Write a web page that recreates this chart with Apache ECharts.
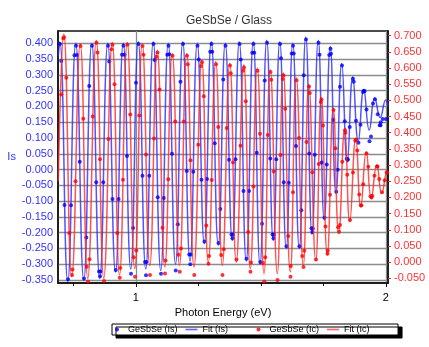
<!DOCTYPE html>
<html><head><meta charset="utf-8">
<script src="https://cdn.jsdelivr.net/npm/echarts@6/dist/echarts.min.js"></script>
<style>html,body{margin:0;padding:0;background:#fff}#c{width:429px;height:347px}</style>
</head><body><div id="c"></div>
<script>
// Tick values
const isTicks = [-0.35,-0.3,-0.25,-0.2,-0.15,-0.1,-0.05,0,0.05,0.1,0.15,0.2,0.25,0.3,0.35,0.4];
const icTicks = [-0.05,0,0.05,0.1,0.15,0.2,0.25,0.3,0.35,0.4,0.45,0.5,0.55,0.6,0.65,0.7];
const xMajor = [1,2];
const xMinor = [0.75,1.25,1.5,1.75];

// Fit (Is): [photon energy eV, Is]
const isFit = [[0.690,0.36],[0.696,0.405],[0.728,-0.355],[0.760,0.400],[0.792,-0.350],[0.824,0.400],[0.856,-0.345],[0.888,0.400],[0.919,-0.325],[0.950,0.400],[0.980,-0.315],[1.010,0.405],[1.040,-0.315],[1.070,0.405],[1.100,-0.320],[1.130,0.400],[1.159,-0.300],[1.188,0.405],[1.217,-0.290],[1.246,0.400],[1.274,-0.235],[1.302,0.405],[1.330,-0.240],[1.358,0.400],[1.386,-0.225],[1.414,0.405],[1.442,-0.290],[1.470,0.405],[1.497,-0.300],[1.524,0.410],[1.550,-0.225],[1.576,0.405],[1.602,-0.250],[1.628,0.400],[1.654,-0.250],[1.680,0.420],[1.705,-0.205],[1.730,0.410],[1.754,-0.160],[1.778,0.390],[1.801,-0.075],[1.824,0.336],[1.846,0.025],[1.868,0.294],[1.890,0.090],[1.912,0.254],[1.934,0.125],[1.956,0.227],[1.978,0.165],[2.000,0.220],[2.009,0.200]];

// GeSbSe (Is) measured points
const isData = [
[0.697,0.398],[0.702,0.344],[0.715,-0.112],
[0.729,-0.348],[0.741,-0.113],[0.755,0.362],
[0.761,0.392],[0.765,0.363],[0.776,0.025],
[0.793,-0.345],[0.802,-0.215],[0.814,0.265],
[0.825,0.392],[0.842,-0.040],[0.853,-0.323],
[0.857,-0.338],[0.859,-0.323],[0.870,-0.040],
[0.889,0.392],[0.894,0.342],[0.907,-0.093],
[0.920,-0.318],[0.931,-0.093],[0.945,0.364],
[0.951,0.392],[0.955,0.364],[0.965,0.043],
[0.981,-0.330],[0.989,-0.185],[1.001,0.275],
[1.011,0.398],[1.027,-0.020],[1.037,-0.293],
[1.041,-0.335],[1.043,-0.293],[1.054,-0.020],
[1.071,0.398],[1.076,0.347],[1.088,-0.088],
[1.101,-0.330],[1.112,-0.090],[1.126,0.364],
[1.131,0.392],[1.134,0.365],[1.145,0.050],
[1.160,-0.320],[1.168,-0.173],[1.179,0.278],
[1.189,0.398],[1.204,-0.005],[1.214,-0.269],
[1.218,-0.300],[1.220,-0.269],[1.230,-0.007],
[1.247,0.392],[1.252,0.349],[1.263,-0.032],
[1.275,-0.228],[1.285,-0.030],[1.298,0.373],
[1.303,0.398],[1.306,0.373],[1.316,0.083],
[1.331,-0.233],[1.338,-0.125],[1.350,0.285],
[1.359,0.392],[1.373,0.031],[1.383,-0.206],
[1.387,-0.218],[1.389,-0.206],[1.399,0.033],
[1.415,0.398],[1.420,0.349],[1.431,-0.068],
[1.443,-0.283],[1.453,-0.068],[1.466,0.370],
[1.471,0.398],[1.474,0.370],[1.484,0.053],
[1.498,-0.293],[1.505,-0.172],[1.516,0.282],
[1.525,0.402],[1.538,0.035],[1.547,-0.206],
[1.551,-0.218],[1.553,-0.206],[1.562,0.033],
[1.577,0.398],[1.581,0.353],[1.592,-0.040],
[1.603,-0.243],[1.612,-0.042],[1.624,0.368],
[1.629,0.392],[1.632,0.368],[1.641,0.075],
[1.655,-0.243],[1.662,-0.129],[1.672,0.299],
[1.681,0.412],[1.694,0.051],[1.703,-0.186],
[1.706,-0.198],[1.708,-0.187],[1.716,0.047],
[1.731,0.402],[1.735,0.364],[1.744,0.022],
[1.755,-0.153],[1.764,0.016],[1.774,0.363],
[1.779,0.383],[1.781,0.367],[1.790,0.158],
[1.802,-0.070],[1.808,-0.001],[1.817,0.262],
[1.825,0.330],[1.836,0.153],[1.844,0.034],
[1.847,0.030],[1.848,0.033],[1.856,0.135],
[1.869,0.288],[1.872,0.278],[1.881,0.155],
[1.891,0.085],[1.899,0.142],[1.909,0.246],
[1.913,0.250],[1.915,0.248],[1.923,0.190],
[1.935,0.090],[1.941,0.105],[1.949,0.209],
[1.957,0.223],[1.968,0.175],[1.976,0.140],
[1.979,0.140],[1.980,0.150],[1.988,0.160],
[2.001,0.160]];

// Fit (Ic): [photon energy eV, Ic]
const icFit = [[0.690,0.25],[0.712,0.705],[0.744,-0.045],[0.778,0.675],[0.808,-0.050],[0.842,0.685],[0.872,-0.050],[0.906,0.680],[0.935,-0.040],[0.966,0.680],[0.996,-0.020],[1.026,0.675],[1.056,-0.010],[1.086,0.655],[1.116,-0.015],[1.146,0.645],[1.175,-0.010],[1.204,0.645],[1.233,-0.015],[1.264,0.625],[1.290,0.000],[1.320,0.620],[1.346,-0.010],[1.376,0.615],[1.402,0.000],[1.432,0.610],[1.458,-0.020],[1.486,0.600],[1.513,-0.035],[1.538,0.595],[1.566,-0.035],[1.590,0.585],[1.618,-0.030],[1.642,0.570],[1.670,-0.010],[1.692,0.550],[1.720,0.005],[1.742,0.510],[1.766,0.022],[1.790,0.476],[1.812,0.089],[1.836,0.414],[1.856,0.125],[1.880,0.383],[1.900,0.171],[1.922,0.341],[1.942,0.197],[1.964,0.300],[1.984,0.213],[2.006,0.280],[2.009,0.275]];

// GeSbSe (Ic) measured points
const icData = [
[0.702,0.518],[0.710,0.691],
[0.713,0.695],[0.722,0.570],[0.734,0.090],
[0.745,-0.040],[0.747,-0.023],[0.759,0.250],
[0.779,0.668],[0.790,0.443],[0.804,-0.014],
[0.809,-0.060],[0.815,0.009],[0.828,0.450],
[0.843,0.678],[0.847,0.648],[0.857,0.318],
[0.873,-0.058],[0.891,0.381],[0.903,0.658],
[0.907,0.672],[0.915,0.550],[0.926,0.090],
[0.936,-0.048],[0.938,-0.018],[0.949,0.255],
[0.967,0.672],[0.978,0.456],[0.992,0.015],
[0.997,-0.045],[1.002,0.036],[1.014,0.453],
[1.027,0.668],[1.031,0.641],[1.041,0.333],
[1.057,-0.040],[1.073,0.382],[1.083,0.635],
[1.087,0.648],[1.095,0.534],[1.107,0.106],
[1.117,-0.035],[1.119,0.005],[1.130,0.256],
[1.147,0.638],[1.158,0.435],[1.171,0.023],
[1.176,-0.030],[1.181,0.042],[1.192,0.435],
[1.205,0.638],[1.208,0.612],[1.219,0.315],
[1.234,-0.040],[1.250,0.363],[1.261,0.606],
[1.265,0.618],[1.272,0.513],[1.282,0.113],
[1.291,-0.005],[1.293,0.019],[1.304,0.254],
[1.321,0.612],[1.330,0.418],[1.342,0.022],
[1.347,-0.040],[1.352,0.040],[1.364,0.415],
[1.377,0.608],[1.380,0.584],[1.389,0.308],
[1.403,0.008],[1.419,0.360],[1.429,0.592],
[1.433,0.602],[1.440,0.497],[1.450,0.093],
[1.459,-0.030],[1.461,-0.001],[1.471,0.234],
[1.487,0.592],[1.497,0.397],[1.509,-0.003],
[1.514,-0.060],[1.518,0.015],[1.528,0.393],
[1.539,0.588],[1.542,0.564],[1.552,0.280],
[1.567,-0.055],[1.579,0.331],[1.588,0.566],
[1.591,0.578],[1.598,0.474],[1.610,0.081],
[1.619,-0.045],[1.620,-0.012],[1.629,0.216],
[1.643,0.562],[1.653,0.384],[1.666,0.019],
[1.671,-0.015],[1.674,0.035],[1.683,0.371],
[1.693,0.543],[1.696,0.523],[1.706,0.278],
[1.721,0.008],[1.732,0.303],[1.740,0.495],
[1.743,0.503],[1.749,0.422],[1.759,0.110],
[1.767,0.026],[1.768,0.036],[1.777,0.208],
[1.791,0.470],[1.799,0.352],[1.809,0.108],
[1.813,0.094],[1.817,0.115],[1.826,0.310],
[1.837,0.408],[1.839,0.400],[1.846,0.270],
[1.857,0.130],[1.869,0.277],[1.878,0.375],
[1.881,0.378],[1.886,0.345],[1.894,0.209],
[1.901,0.175],[1.902,0.176],[1.910,0.241],
[1.923,0.336],[1.930,0.295],[1.939,0.204],
[1.943,0.200],[1.946,0.205],[1.955,0.267],
[1.965,0.296],[1.967,0.296],[1.974,0.257],
[1.985,0.216],[1.996,0.253],[2.004,0.278],
[2.006,0.276]];

const FONT = "'Liberation Sans', Arial, sans-serif";
const chart = echarts.init(document.getElementById('c'), null, {renderer:'canvas'});
chart.setOption({
  animation: false,
  backgroundColor: '#fff',
  textStyle: {fontFamily: FONT},
  title: {text: 'GeSbSe / Glass', left: 224, top: 10, textAlign: 'center',
    textStyle: {fontSize: 12, fontWeight: 'normal', color: '#333', fontFamily: FONT}},
  grid: {left: 58, right: 41, top: 31, bottom: 64, show: true, borderColor: '#111', borderWidth: 1.5, backgroundColor: 'transparent'},
  legend: {
    left: 112, top: 324, orient: 'horizontal',
    data: [{name: 'GeSbSe (Is)', icon: 'circle'}, {name: 'Fit (Is)', icon: 'path://M0,0L12,0L12,1.6L0,1.6Z'},
           {name: 'GeSbSe (Ic)', icon: 'circle'}, {name: 'Fit (Ic)', icon: 'path://M0,0L12,0L12,1.6L0,1.6Z'}],
    itemWidth: 12, itemHeight: 4, itemGap: 8,
    textStyle: {fontSize: 9, width: 46, color: '#000', fontFamily: FONT, lineHeight: 9},
    padding: [1, 8, 1, 3], borderColor: '#000', borderWidth: 1, backgroundColor: '#fff',
    shadowColor: '#000', shadowOffsetX: 4, shadowOffsetY: 3, shadowBlur: 0
  },
  xAxis: [{
    type: 'value', min: 0.689, max: 2.009, position: 'bottom',
    name: 'Photon Energy (eV)', nameLocation: 'middle', nameGap: 23,
    nameTextStyle: {fontSize: 11, color: '#000', fontFamily: FONT},
    axisLine: {show: true, onZero: false, lineStyle: {color: '#111', width: 1.5}},
    axisTick: {show: true, customValues: xMajor, length: 4, inside: false, lineStyle: {color: '#111'}},
    axisLabel: {customValues: xMajor, fontSize: 11, color: '#000', margin: 9, formatter: v => String(v)},
    splitLine: {show: true, lineStyle: {color: '#8c8c8c', width: 1.3}}
  }, {
    type: 'value', min: 0.689, max: 2.009, position: 'bottom',
    axisLine: {show: false, onZero: false},
    axisTick: {show: true, customValues: xMinor, length: 3, inside: false, lineStyle: {color: '#111'}},
    axisLabel: {show: false},
    splitLine: {show: false}
  }],
  yAxis: [{
    type: 'value', min: -0.3595, max: 0.439, position: 'left',
    name: 'Is', nameLocation: 'middle', nameRotate: 0, nameGap: 31,
    nameTextStyle: {fontSize: 11, color: '#3333ff', fontFamily: FONT},
    axisLine: {show: true, onZero: false, lineStyle: {color: '#111', width: 1.5}},
    axisTick: {show: false, customValues: isTicks},
    axisLabel: {customValues: isTicks, fontSize: 11, color: '#3333ff', margin: 5, formatter: v => v.toFixed(3)},
    splitLine: {show: true, lineStyle: {color: '#8c8c8c', width: 1.3}}
  }, {
    type: 'value', min: -0.0645, max: 0.7145, position: 'right',
    axisLine: {show: true, onZero: false, lineStyle: {color: '#111', width: 1.5}},
    axisTick: {show: true, customValues: icTicks, length: 3, inside: false, lineStyle: {color: '#cc3333'}},
    axisLabel: {customValues: icTicks, fontSize: 11, color: '#ff3333', margin: 6, formatter: v => v.toFixed(3)},
    splitLine: {show: false}
  }],
  series: [
    {name: 'GeSbSe (Is)', type: 'scatter', xAxisIndex: 0, yAxisIndex: 0, data: isData, symbolSize: 4,
      itemStyle: {color: '#0000ff'}, z: 3},
    {name: 'Fit (Is)', type: 'line', xAxisIndex: 0, yAxisIndex: 0, data: isFit, smooth: 0.5, symbol: 'none',
      lineStyle: {color: 'rgba(40,40,255,0.8)', width: 1.5}, itemStyle: {color: 'rgba(60,60,255,0.8)'}, z: 2},
    {name: 'GeSbSe (Ic)', type: 'scatter', xAxisIndex: 0, yAxisIndex: 1, data: icData, symbolSize: 4,
      itemStyle: {color: '#ff0000'}, z: 5},
    {name: 'Fit (Ic)', type: 'line', xAxisIndex: 0, yAxisIndex: 1, data: icFit, smooth: 0.5, symbol: 'none',
      lineStyle: {color: 'rgba(255,40,40,0.8)', width: 1.5}, itemStyle: {color: 'rgba(255,60,60,0.8)'}, z: 4}
  ]
});
</script></body></html>
